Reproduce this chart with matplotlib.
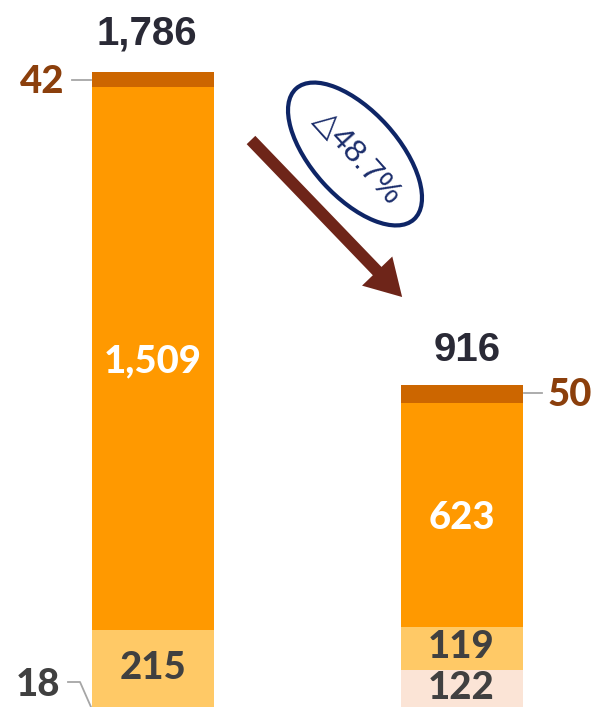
import matplotlib
matplotlib.use("Agg")
import matplotlib.pyplot as plt
from matplotlib.patches import Ellipse, FancyArrow
import numpy as np

# ---- data ----
categories = ["Before", "After"]
seg_names = ["bottom", "base", "main", "top"]
seg_bottom = [18, 122]
seg_base = [215, 119]
seg_main = [1509, 623]
seg_top = [42, 50]
totals = ["1,786", "916"]
change_label = "\u25B348.7%"

colors = {"bottom": "#FBE4D6", "base": "#FFC966", "main": "#FF9900", "top": "#CC6600"}

W, H = 596, 707
fig = plt.figure(figsize=(W / 100, H / 100), dpi=100)

# main axes: baseline slightly below the figure edge
px_per_unit = 0.36
base_px = 714
ax = fig.add_axes([0, (H - base_px) / H, 1, base_px / H])
ax.set_ylim(0, base_px / px_per_unit)
x = np.arange(len(categories))
centers_px = [152.5, 461.5]
sep = centers_px[1] - centers_px[0]
ax.set_xlim(-centers_px[0] / sep, 1 + (W - centers_px[1]) / sep)
bw = 122 / sep
ax.axis("off")

series = [seg_bottom, seg_base, seg_main, seg_top]
bottoms = np.zeros(len(categories))
for name, vals in zip(seg_names, series):
    ax.bar(x, vals, bw, bottom=bottoms, color=colors[name], linewidth=0)
    bottoms = bottoms + np.array(vals)

lab_font = dict(family=["Lato", "DejaVu Sans"], weight=900, fontsize=27.5)
dark = "#404040"
b0 = np.array(seg_bottom)
b1 = b0 + np.array(seg_base)
b2 = b1 + np.array(seg_main)
for i in range(2):
    ax.text(x[i], (b1[i] + b2[i]) / 2 - 9, f"{seg_main[i]:,}", ha="center", va="center", color="white", **lab_font)
ax.text(x[0], (b0[0] + b1[0]) / 2 + 2, f"{seg_base[0]:,}", ha="center", va="center", color=dark, **lab_font)
ax.text(x[1], (b0[1] + b1[1]) / 2 + 4, f"{seg_base[1]:,}", ha="center", va="center", color=dark, **lab_font)
ax.text(x[1], b0[1] / 2 + 12, f"{seg_bottom[1]:,}", ha="center", va="center", color=dark, **lab_font)

tot_font = dict(family=["Liberation Sans", "DejaVu Sans"], weight="bold", fontsize=29, color="#2A2A36")
ax.text(x[0] - 0.02, bottoms[0] + 105, totals[0], ha="center", va="center", **tot_font)
ax.text(x[1] + 0.02, bottoms[1] + 98, totals[1], ha="center", va="center", **tot_font)

# overlay in pixel coordinates for annotations
ov = fig.add_axes([0, 0, 1, 1])
ov.set_xlim(0, W)
ov.set_ylim(H, 0)
ov.axis("off")
ov.patch.set_alpha(0)

brown = "#8B3F0C"
gray = "#A6A6A6"
side_font = dict(family=["Lato", "DejaVu Sans"], weight=900, fontsize=27.5)
ov.plot([72, 91], [80, 80], color=gray, lw=1.3)
ov.text(42, 82, f"{seg_top[0]}", ha="center", va="center", color=brown, **side_font)
ov.plot([524, 542], [393, 393], color=gray, lw=1.3)
ov.text(570, 395, f"{seg_top[1]}", ha="center", va="center", color=brown, **side_font)
ov.plot([68, 80, 91], [682, 682, 707], color=gray, lw=1.3)
ov.text(38, 685, f"{seg_bottom[0]}", ha="center", va="center", color=dark, **side_font)

# arrow
ov.add_patch(FancyArrow(251, 140, 151 - 36 * 0.69, 157 - 36 * 0.72, width=12, head_width=42,
                        head_length=36, length_includes_head=False, color="#6E2519", linewidth=0))
# ellipse
ov.add_patch(Ellipse((355, 154), 176, 86, angle=48, fill=False, edgecolor="#0E2566", linewidth=3.0))
ov.text(357, 158, change_label, ha="center", va="center", rotation=-48, rotation_mode="anchor",
        color="#1B2D6B", family=["Liberation Sans", "DejaVu Sans"], fontsize=23)

fig.savefig("out.png", dpi=100)
